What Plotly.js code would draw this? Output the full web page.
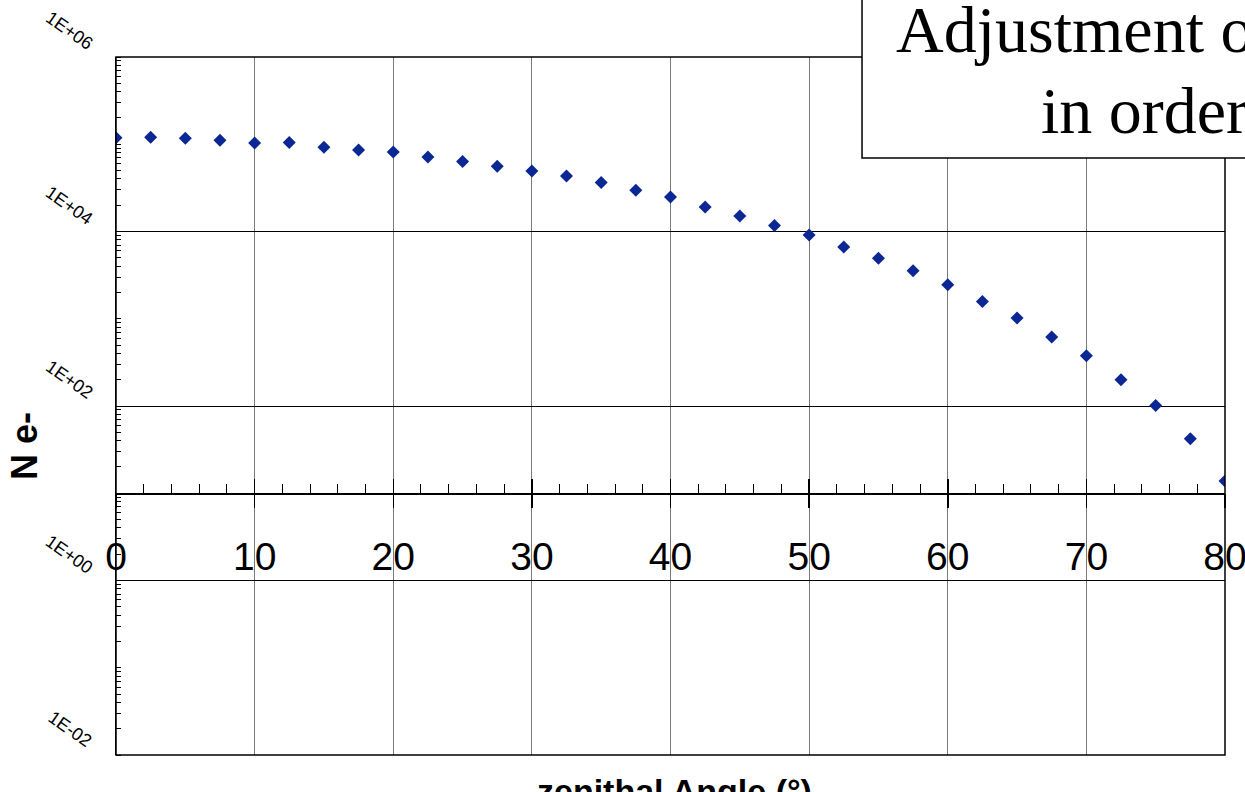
<!DOCTYPE html>
<html>
<head>
<meta charset="utf-8">
<script src="https://cdn.plot.ly/plotly-3.0.1.min.js"></script>
<style>
  html, body { margin: 0; padding: 0; background: #ffffff; }
  #chart { width: 1245px; height: 792px; }
</style>
</head>
<body>
<div id="chart"></div>
<script>
// ---- data ----
const zenithAngle = [0, 2.5, 5, 7.5, 10, 12.5, 15, 17.5, 20, 22.5, 25, 27.5, 30, 32.5, 35, 37.5,
  40, 42.5, 45, 47.5, 50, 52.5, 55, 57.5, 60, 62.5, 65, 67.5, 70, 72.5, 75, 77.5, 80];
const nElectrons = [119000, 120000, 117000, 111000, 103500, 104500, 92400, 86000, 81700, 71500,
  63300, 56000, 49400, 43300, 36400, 29700, 24900, 19100, 15100, 11700, 9120, 6640, 4930,
  3560, 2460, 1580, 1020, 617, 376, 200, 101, 42, 13.8];

const xTickVals = [0, 10, 20, 30, 40, 50, 60, 70, 80];
const xTickText = ["0", "10", "20", "30", "40", "50", "60", "70", "80"];
const yTickVals = [1e-2, 1, 1e2, 1e4, 1e6];
const yTickText = ["1E-02", "1E+00", "1E+02", "1E+04", "1E+06"];
const xAxisCross = 10;          // the x axis crosses the y axis at N = 10
const titleLines = ["Adjustment of", "in order"];
const xTitle = "zenithal Angle (°)";
const yTitle = "N e-";

// ---- geometry helpers ----
const yRange = [-2, 6];
const xAxisPos = (Math.log10(xAxisCross) - yRange[0]) / (yRange[1] - yRange[0]);

const trace = {
  x: zenithAngle,
  y: nElectrons,
  type: "scatter",
  mode: "markers",
  marker: { symbol: "diamond", size: 10, color: "#0b2794", line: { width: 0 } },
  hoverinfo: "x+y",
  showlegend: false
};

// invisible trace driving an overlay axis for the downward half of the major ticks
const traceOverlay = {
  x: [0, 80], y: [1, 1], xaxis: "x2", yaxis: "y",
  type: "scatter", mode: "markers", marker: { opacity: 0 }, hoverinfo: "skip", showlegend: false
};

const yLabelAnnotations = yTickVals.map((v, i) => ({
  xref: "paper", yref: "y",
  x: -0.0415, y: Math.log10(v),
  yshift: 26,
  text: yTickText[i],
  showarrow: false,
  textangle: 35,
  xanchor: "center", yanchor: "middle",
  font: { family: "Liberation Sans, Arial, sans-serif", size: 18, color: "#000" }
}));

const layout = {
  width: 1245, height: 792,
  paper_bgcolor: "#ffffff", plot_bgcolor: "#ffffff",
  margin: { l: 116, r: 20, t: 57, b: 37, pad: 0 },
  showlegend: false,
  xaxis: {
    range: [0, 80],
    anchor: "free", position: xAxisPos,
    tickmode: "array", tickvals: xTickVals, ticktext: xTickText,
    showgrid: true, gridcolor: "#7a7a7a", gridwidth: 1,
    zeroline: false,
    showline: true, linecolor: "#000", linewidth: 1.5,
    ticks: "inside", ticklen: 14, tickwidth: 1.5, tickcolor: "#000",
    minor: { dtick: 2, tick0: 0, ticks: "inside", ticklen: 9, tickwidth: 1, tickcolor: "#000", showgrid: false },
    ticklabelstandoff: 28,
    ticklabeloverflow: "allow",
    tickfont: { family: "Liberation Sans Narrow, Arial Narrow, Liberation Sans, Arial, sans-serif", size: 39, color: "#000" }
  },
  xaxis2: {
    range: [0, 80], overlaying: "x",
    anchor: "free", position: xAxisPos,
    tickmode: "array", tickvals: xTickVals,
    showticklabels: false, showgrid: false, zeroline: false, showline: false,
    ticks: "outside", ticklen: 14, tickwidth: 1.5, tickcolor: "#000"
  },
  yaxis: {
    type: "log", range: yRange,
    tickmode: "array", tickvals: yTickVals,
    showticklabels: false,
    showgrid: true, gridcolor: "#000", gridwidth: 1,
    zeroline: false,
    showline: true, linecolor: "#000", linewidth: 1.5,
    ticks: "",
    minor: { dtick: "D1", ticks: "inside", ticklen: 5, tickwidth: 1, tickcolor: "#000", showgrid: false }
  },
  shapes: [
    { type: "rect", xref: "paper", yref: "paper", x0: 0, x1: 1, y0: 0, y1: 1,
      line: { color: "#000", width: 1.5 }, fillcolor: "rgba(0,0,0,0)", layer: "above" },
    { type: "rect", xref: "paper", yref: "paper", x0: 0.6727, x1: 1.2, y0: 0.8553, y1: 1.2,
      line: { color: "#000", width: 1.5 }, fillcolor: "#ffffff", layer: "above" }
  ],
  annotations: yLabelAnnotations.concat([
    { xref: "paper", yref: "paper", x: 0.7015, y: 1.0395, xanchor: "left", yanchor: "middle",
      text: titleLines[0], showarrow: false, align: "left",
      font: { family: "Liberation Serif, Times New Roman, serif", size: 66, color: "#000" } },
    { xref: "paper", yref: "paper", x: 0.8325, y: 0.9235, xanchor: "left", yanchor: "middle",
      text: titleLines[1], showarrow: false, align: "left",
      font: { family: "Liberation Serif, Times New Roman, serif", size: 66, color: "#000" } },
    { xref: "paper", yref: "paper", x: 0.504, y: -0.021, xanchor: "center", yanchor: "top",
      text: "<b>" + xTitle + "</b>", showarrow: false,
      font: { family: "Liberation Sans, Arial, sans-serif", size: 34, color: "#000" } },
    { xref: "paper", yref: "paper", x: -0.082, y: 0.4427, xanchor: "center", yanchor: "middle",
      text: "<b>" + yTitle + "</b>", showarrow: false, textangle: -90,
      font: { family: "Liberation Sans, Arial, sans-serif", size: 36, color: "#000" } }
  ])
};

Plotly.newPlot("chart", [trace, traceOverlay], layout, { displayModeBar: false, staticPlot: true });
</script>
</body>
</html>
